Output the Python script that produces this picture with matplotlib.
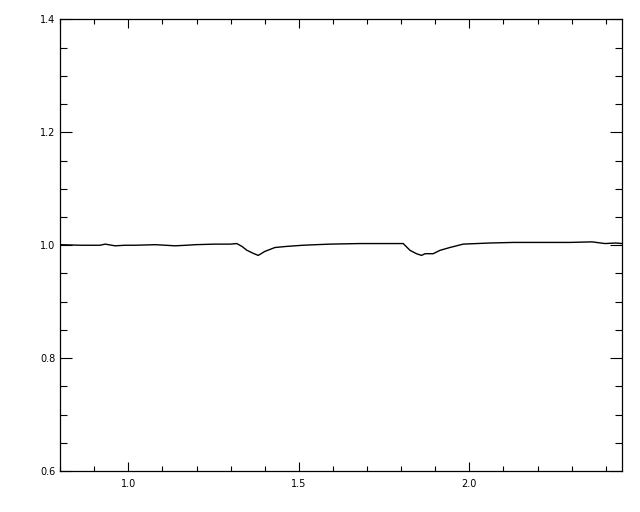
import matplotlib
matplotlib.use('Agg')
import matplotlib.pyplot as plt
from matplotlib.ticker import MultipleLocator, FormatStrFormatter

# 读取自参考图的光谱数据（归一化通量）
wavelength = [0.800, 0.860, 0.917, 0.932, 0.961, 0.990, 1.020, 1.080, 1.137,
              1.170, 1.196, 1.254, 1.300, 1.318, 1.333, 1.348, 1.365, 1.381,
              1.400, 1.430, 1.465, 1.512, 1.550, 1.592, 1.679, 1.767, 1.806,
              1.826, 1.845, 1.860, 1.870, 1.894, 1.914, 1.943, 1.982, 2.061,
              2.130, 2.207, 2.295, 2.360, 2.398, 2.430, 2.448]
flux = [1.001, 1.000, 1.000, 1.002, 0.999, 1.000, 1.000, 1.001, 0.999,
        1.000, 1.001, 1.002, 1.002, 1.003, 0.998, 0.991, 0.986, 0.982,
        0.989, 0.996, 0.998, 1.000, 1.001, 1.002, 1.003, 1.003, 1.003,
        0.991, 0.985, 0.982, 0.985, 0.985, 0.991, 0.996, 1.002, 1.004,
        1.005, 1.005, 1.005, 1.006, 1.003, 1.004, 1.003]

x_range = (0.8, 2.448)
y_range = (0.6, 1.4)

fig = plt.figure(figsize=(6.4, 5.12), dpi=100)
ax = fig.add_axes([0.094, 0.080, 0.878, 0.882])

ax.plot(wavelength, flux, color='black', linewidth=1.0)

ax.set_xlim(*x_range)
ax.set_ylim(*y_range)

ax.xaxis.set_major_locator(MultipleLocator(0.5))
ax.xaxis.set_minor_locator(MultipleLocator(0.1))
ax.yaxis.set_major_locator(MultipleLocator(0.2))
ax.yaxis.set_minor_locator(MultipleLocator(0.05))
ax.xaxis.set_major_formatter(FormatStrFormatter('%.1f'))
ax.yaxis.set_major_formatter(FormatStrFormatter('%.1f'))

# IDL 风格：刻度朝内，四边都有
ax.tick_params(axis='both', which='both', direction='in', top=True, right=True,
               width=0.8, colors='black', labelsize=7)
ax.tick_params(axis='x', which='major', length=6.5, pad=6)
ax.tick_params(axis='x', which='minor', length=3.6)
ax.tick_params(axis='y', which='major', length=8.4, pad=3.5)
ax.tick_params(axis='y', which='minor', length=4.8)

for s in ax.spines.values():
    s.set_linewidth(0.9)

fig.savefig('out.png', dpi=100)
